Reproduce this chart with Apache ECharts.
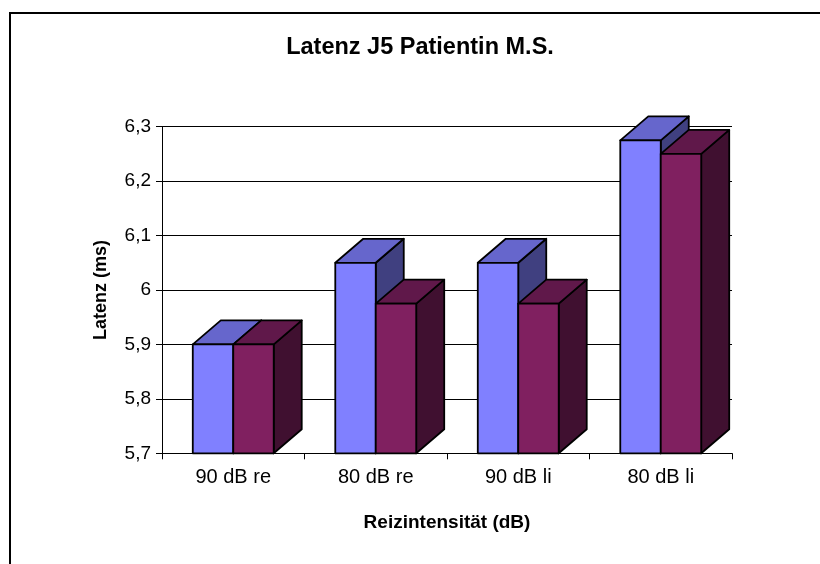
<!DOCTYPE html>
<html>
<head>
<meta charset="utf-8">
<script src="https://cdn.jsdelivr.net/npm/echarts@6/dist/echarts.min.js"></script>
<style>
  html, body { margin: 0; padding: 0; background: #fff; }
  #chart { width: 820px; height: 564px; }
</style>
</head>
<body>
<div id="chart"></div>
<script>
// Stimulus intensities (categories) and J5 latencies in ms for the two runs
const categories = ['90 dB re', '80 dB re', '90 dB li', '80 dB li'];
const latencyRun1 = [5.9, 6.05, 6.05, 6.275];
const latencyRun2 = [5.9, 5.975, 5.975, 6.25];
const yTicks = { min: 5.7, max: 6.3, step: 0.1 };

const FONT = '"Liberation Sans", Arial, sans-serif';
const DEPTH_X = 28;   // 3D depth offset of the columns, px
const DEPTH_Y = -24;
const BAR_FRAC = 0.284; // width of one column as a fraction of a category band

// Face colours: front, top, side
const palette = [
  { front: '#8080ff', top: '#6666cc', side: '#404080' },
  { front: '#802060', top: '#60184a', side: '#401030' }
];

function makeRender(slot) {
  const c = palette[slot];
  return function (params, api) {
    const idx = api.value(0);
    const val = api.value(1);
    const pTop = api.coord([idx, val]);
    const pBase = api.coord([idx, yTicks.min]);
    const band = api.size([1, 0])[0];
    const w = band * BAR_FRAC;
    const x0 = slot === 0 ? pTop[0] - w : pTop[0];
    const x1 = x0 + w;
    const yt = pTop[1];
    const yb = pBase[1];
    const stroke = { stroke: '#000', lineWidth: 1.8, lineJoin: 'round' };
    return {
      type: 'group',
      children: [
        {
          type: 'polygon',
          shape: { points: [[x1, yt], [x1 + DEPTH_X, yt + DEPTH_Y], [x1 + DEPTH_X, yb + DEPTH_Y], [x1, yb]] },
          style: Object.assign({ fill: c.side }, stroke)
        },
        {
          type: 'polygon',
          shape: { points: [[x0, yt], [x0 + DEPTH_X, yt + DEPTH_Y], [x1 + DEPTH_X, yt + DEPTH_Y], [x1, yt]] },
          style: Object.assign({ fill: c.top }, stroke)
        },
        {
          type: 'polygon',
          shape: { points: [[x0, yt], [x1, yt], [x1, yb], [x0, yb]] },
          style: Object.assign({ fill: c.front }, stroke)
        }
      ]
    };
  };
}

const chart = echarts.init(document.getElementById('chart'), null, { renderer: 'canvas' });

chart.setOption({
  animation: false,
  backgroundColor: '#fff',
  title: {
    text: 'Latenz J5 Patientin M.S.',
    left: 415,
    top: 31,
    textAlign: 'center',
    textStyle: { fontFamily: FONT, fontSize: 23.5, fontWeight: 'bold', color: '#000' }
  },
  graphic: [
    {
      type: 'polyline',
      shape: { points: [[10, 600], [10, 13], [840, 13]] },
      style: { stroke: '#000', lineWidth: 2, fill: null },
      silent: true
    }
  ],
  grid: { left: 162, right: 88, top: 126.7, bottom: 110.7 },
  xAxis: {
    type: 'category',
    data: categories,
    boundaryGap: true,
    name: 'Reizintensität (dB)',
    nameLocation: 'middle',
    nameGap: 60,
    nameTextStyle: { fontFamily: FONT, fontSize: 19, fontWeight: 'bold', color: '#000' },
    axisLine: { lineStyle: { color: '#000', width: 1 } },
    axisTick: { show: true, length: 6, lineStyle: { color: '#000' } },
    axisLabel: { fontFamily: FONT, fontSize: 20, color: '#000', margin: 14 }
  },
  yAxis: {
    type: 'value',
    min: yTicks.min,
    max: yTicks.max,
    interval: yTicks.step,
    name: 'Latenz (ms)',
    nameLocation: 'middle',
    nameGap: 52,
    nameRotate: 90,
    nameTextStyle: { fontFamily: FONT, fontSize: 18, fontWeight: 'bold', color: '#000' },
    axisLine: { show: true, lineStyle: { color: '#000', width: 1 } },
    axisTick: { show: true, length: 6, lineStyle: { color: '#000' } },
    splitLine: { show: true, lineStyle: { color: '#000', width: 1 } },
    axisLabel: {
      fontFamily: FONT,
      fontSize: 19,
      color: '#000',
      margin: 11,
      formatter: function (v) {
        return String(Math.round(v * 10) / 10).replace('.', ',');
      }
    }
  },
  series: [
    {
      type: 'custom',
      name: 'Messung 1',
      renderItem: makeRender(0),
      encode: { x: 0, y: 1 },
      data: latencyRun1.map((v, i) => [i, v]),
      z: 2
    },
    {
      type: 'custom',
      name: 'Messung 2',
      renderItem: makeRender(1),
      encode: { x: 0, y: 1 },
      data: latencyRun2.map((v, i) => [i, v]),
      z: 3
    }
  ]
});
</script>
</body>
</html>
